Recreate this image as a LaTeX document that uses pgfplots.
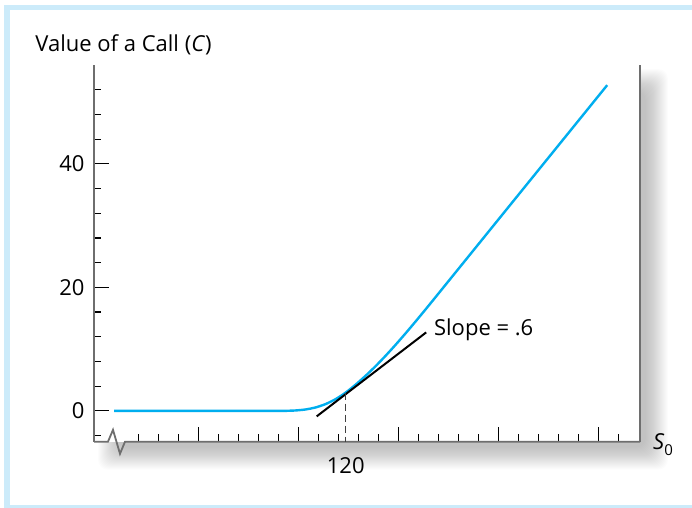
\documentclass[border=0pt]{standalone}
\usepackage{fontspec}
\setmainfont{Open Sans}
\usepackage{pgfplots}
\pgfplotsset{compat=1.18}
\pgfdeclarelayer{shadow}
\pgfsetlayers{shadow,main}

\definecolor{callcyan}{RGB}{0,174,239}
\definecolor{frameblue}{RGB}{204,235,250}
\definecolor{axisgray}{RGB}{110,110,110}

\begin{document}
\begin{tikzpicture}[font=\fontsize{11}{13}\selectfont]
\useasboundingbox (0,0) rectangle (346pt,254pt);
% light blue frame (right side runs off the picture)
\fill[frameblue] (2pt,0) rectangle (5pt,251.5pt);
\fill[frameblue] (2pt,249pt) rectangle (346pt,251.5pt);
\fill[frameblue] (2pt,0) rectangle (346pt,1.5pt);

\node[anchor=base west, inner sep=0pt] at (17.5pt,228pt) {Value of a Call (\textit{C})};

\begin{axis}[
    name=ax,
    at={(47pt,33.15pt)}, anchor=south west,
    width=273pt, height=188.35pt, scale only axis,
    xmin=69.66, xmax=178.86,
    ymin=-5, ymax=56,
    clip=false,
    axis background/.style={fill=white},
    axis line style={draw=axisgray, line width=0.9pt},
    separate axis lines,
    x axis line style={draw=none},
    tick pos=left,
    tick align=inside,
    major tick length=7.5pt,
    minor tick length=3.6pt,
    every tick/.style={black, line width=0.6pt},
    ytick={0,20,40},
    minor ytick={-4,0,...,52},
    yticklabel style={xshift=-1.2pt},
    xtick={90.5,110.5,130.5,150.5,170.5},
    xticklabels={},
    minor xtick={78.5,82.5,...,174.5},
    /pgf/number format/assume math mode=true,
]
% bottom axis line with break mark
\draw[axisgray, line width=0.9pt, line join=miter]
    (axis cs:69.66,-5) -- (axis cs:72.46,-5) -- (axis cs:73.46,-3.08)
    -- (axis cs:74.86,-6.96) -- (axis cs:75.86,-5) -- (axis cs:178.86,-5);

% call value curve
\addplot[callcyan, line width=1.2pt, smooth, tension=0.4] coordinates {
    (73.7,0) (106,0) (108,0.0) (110,0.06) (112,0.22) (114,0.55)
    (116,1.1) (118,1.9) (120,2.95) (122,4.25) (124,5.69) (126,7.25)
    (128,8.93) (130,10.71) (132,12.57) (134,14.49) (136,16.45)
    (138,18.44) (140,20.44) (172.3,52.74)
};
% tangent at S0 = 120
\addplot[black, line width=1pt] coordinates {(114.2,-0.9) (136.1,12.7)};
% dashed drop line
\addplot[black!75, line width=0.5pt, dash pattern=on 3.5pt off 2pt]
    coordinates {(120,2.95) (120,-5)};

\node[anchor=base west, inner sep=0pt] at (axis cs:137.6,12.15) {Slope = .6};
\node[anchor=base] at (axis cs:120,-10.1) {120};
\node[anchor=base west, inner sep=0pt] at (axis cs:181.4,-6.3)
    {\textit{S}\raisebox{-0.45ex}{\fontsize{7.5}{8}\selectfont 0}};
\end{axis}

% soft drop shadow behind the plot box
\begin{pgfonlayer}{shadow}
\foreach \e in {-10,...,12} {
  \fill[black, opacity=0.013, rounded corners=5pt]
    ([xshift=8pt-\e*0.5pt, yshift=-8pt-\e*0.5pt]ax.south west) rectangle
    ([xshift=8pt+\e*0.5pt, yshift=-8pt+\e*0.5pt]ax.north east);
}
\end{pgfonlayer}
\end{tikzpicture}
\end{document}
